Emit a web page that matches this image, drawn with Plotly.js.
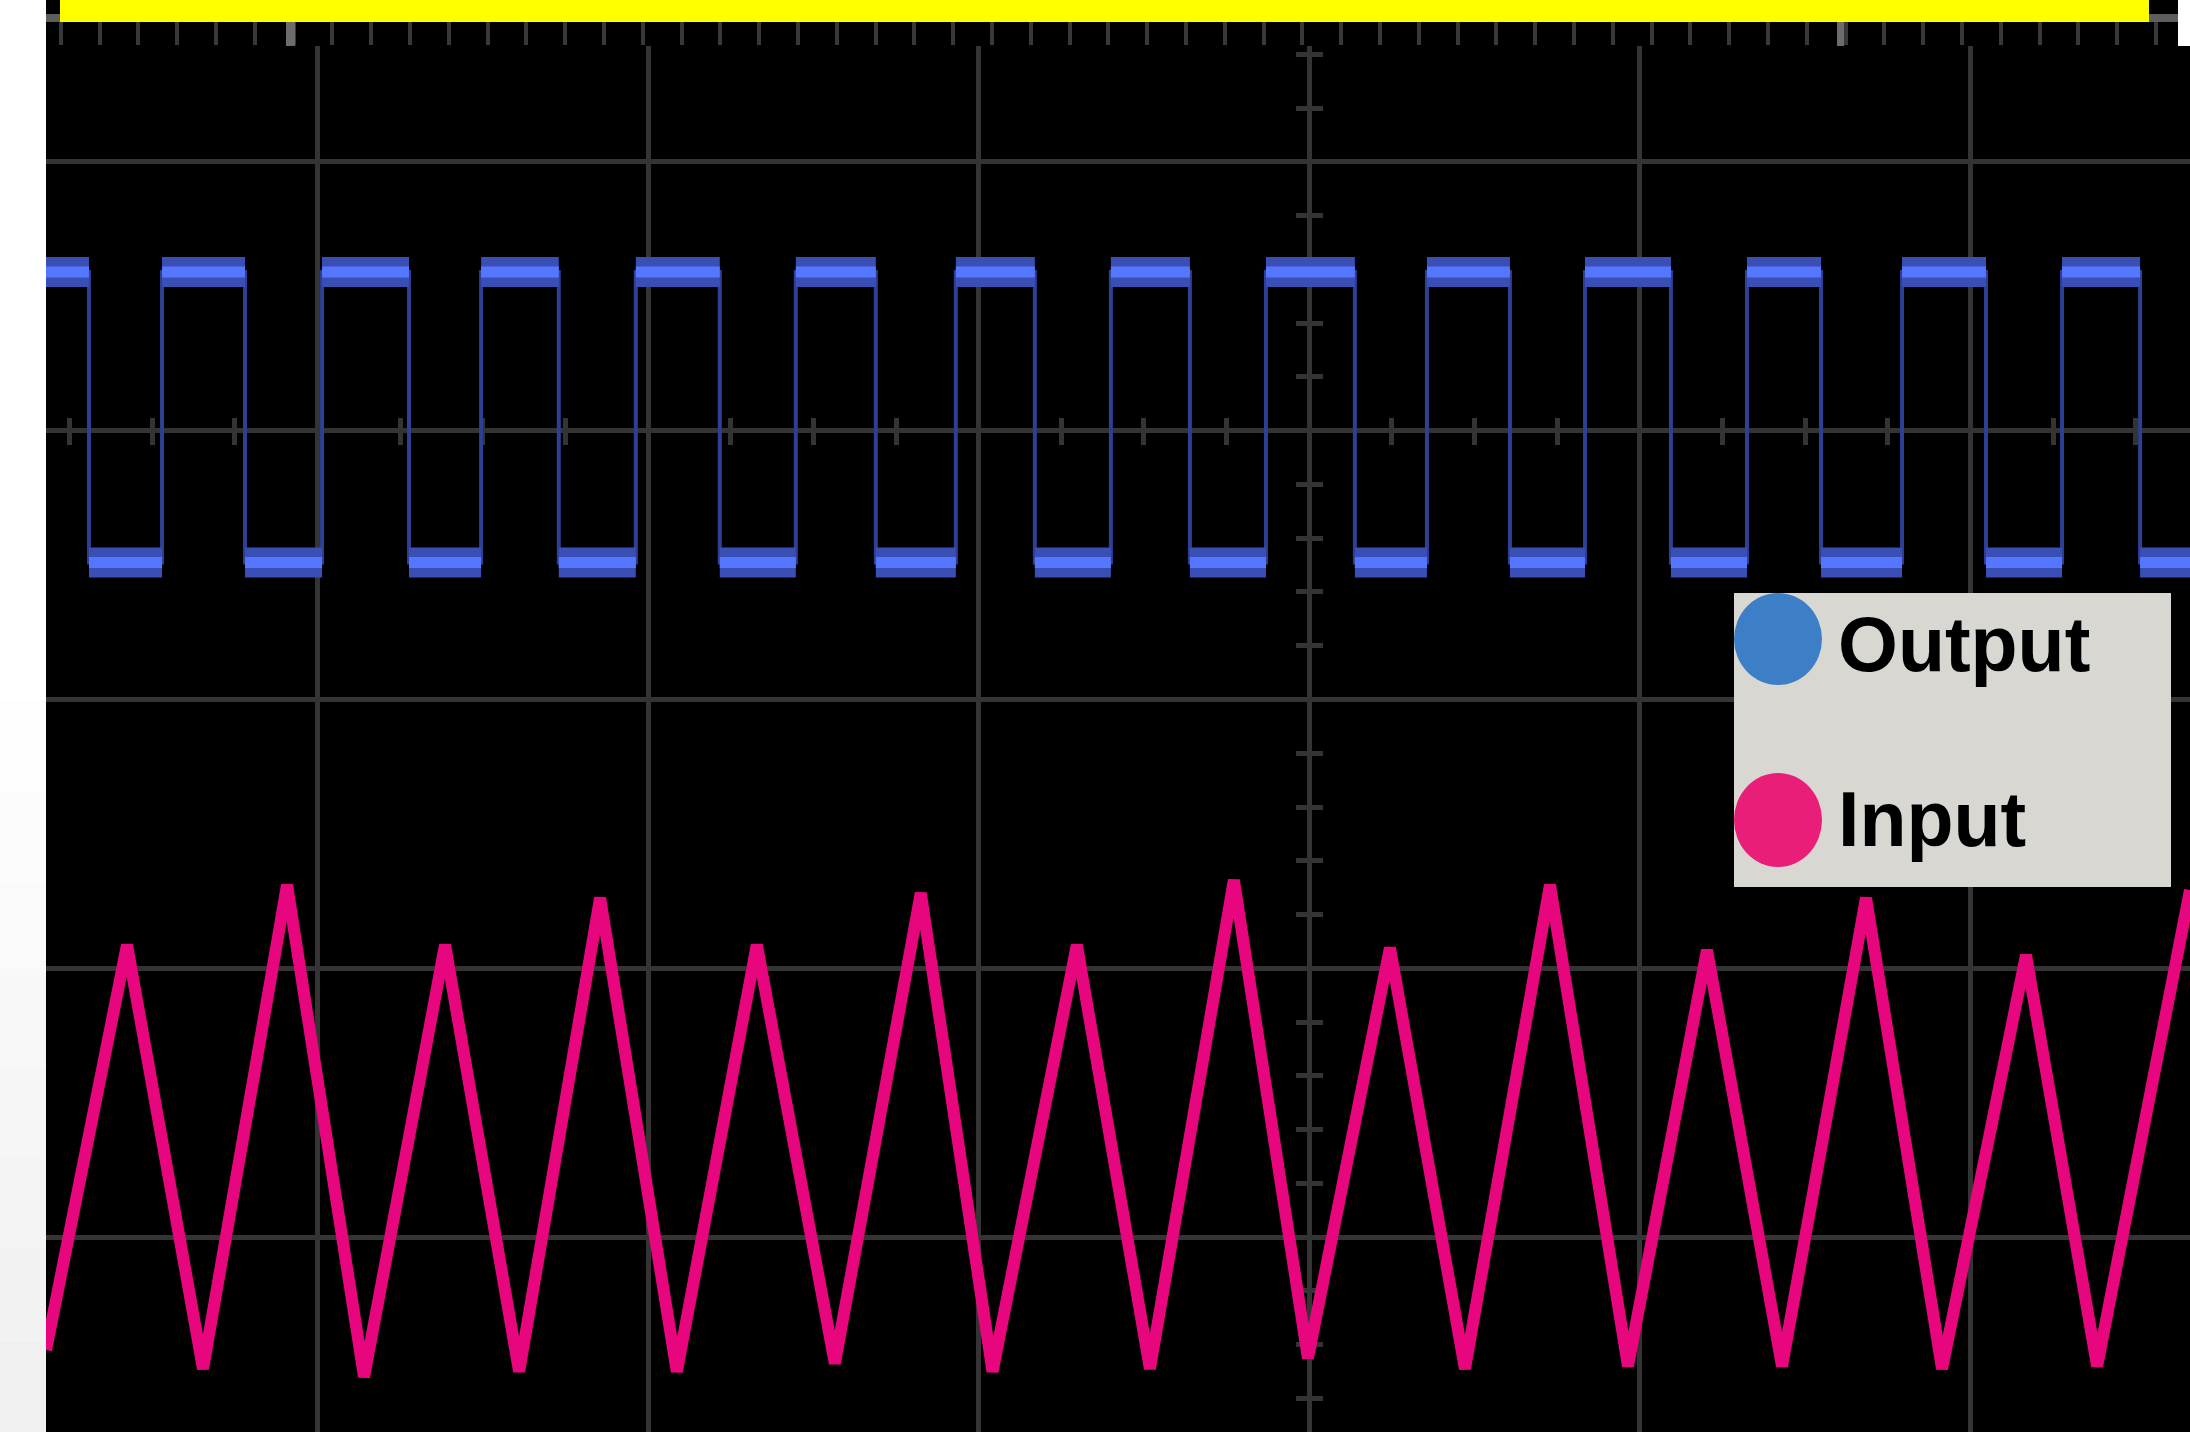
<!DOCTYPE html>
<html>
<head>
<meta charset="utf-8">
<script src="https://cdn.plot.ly/plotly-3.0.1.min.js"></script>
<style>
html, body { margin: 0; padding: 0; background: #ffffff; overflow: hidden; }
#chart { width: 2190px; height: 1432px; }
</style>
</head>
<body>
<div id="chart"></div>
<script>
// ---- Data (time and amplitude in screen divisions; 0 = centre graticule) ----
// Output: square wave, transition times and the level held after each one
const outputTime = [-3.821, -3.691, -3.470, -3.219, -2.986, -2.723, -2.505, -2.270, -2.037,
  -1.783, -1.553, -1.311, -1.069, -0.830, -0.600, -0.361, -0.131, 0.138, 0.356,
  0.607, 0.834, 1.094, 1.324, 1.548, 1.793, 2.047, 2.277, 2.513, 2.664];
const outputLevel = [0.59, -0.49, 0.59, -0.49, 0.59, -0.49, 0.59, -0.49, 0.59,
  -0.49, 0.59, -0.49, 0.59, -0.49, 0.59, -0.49, 0.59, -0.49, 0.59,
  -0.49, 0.59, -0.49, 0.59, -0.49, 0.59, -0.49, 0.59, -0.49, -0.49];

// Input: triangle wave, vertices
const inputTime = [-3.821, -3.576, -3.346, -3.092, -2.859, -2.614, -2.390, -2.145, -1.913,
  -1.671, -1.435, -1.175, -0.958, -0.703, -0.482, -0.228, -0.004, 0.244, 0.471,
  0.728, 0.964, 1.203, 1.430, 1.684, 1.914, 2.168, 2.383, 2.664];
const inputVolt = [-3.42, -1.913, -3.49, -1.690, -3.52, -1.913, -3.50, -1.738, -3.50,
  -1.913, -3.47, -1.720, -3.50, -1.913, -3.49, -1.672, -3.45, -1.924, -3.49,
  -1.690, -3.48, -1.932, -3.48, -1.738, -3.49, -1.951, -3.48, -1.709];

const seriesNames = ['Output', 'Input'];
const seriesColors = ['#3d7fc7', '#e91e79'];

// ---- Screen geometry ----
const W = 2190, H = 1432, L = 46, T = 46;
const xRange = [-3.821, 2.664];
const yRange = [-3.725, 1.431];
const px = v => (v - L) / (W - L);
const py = v => (H - v) / (H - T);

// plateau segments of the output trace (noise band)
const bandX = [], bandY = [];
for (let i = 0; i < outputTime.length - 1; i++) {
  bandX.push(outputTime[i], outputTime[i + 1], null);
  bandY.push(outputLevel[i], outputLevel[i], null);
}

const traces = [
  { x: outputTime, y: outputLevel, mode: 'lines', line: { shape: 'hv', color: '#2e3f95', width: 4 },
    showlegend: false, hoverinfo: 'skip', name: seriesNames[0] },
  { x: bandX, y: bandY, mode: 'lines', line: { color: '#3a4fb6', width: 30 },
    showlegend: false, hoverinfo: 'skip', connectgaps: false },
  { x: bandX, y: bandY, mode: 'lines', line: { color: '#5577ff', width: 11 },
    showlegend: false, hoverinfo: 'skip', connectgaps: false },
  { x: inputTime, y: inputVolt, mode: 'lines', line: { color: '#e8067e', width: 12 },
    showlegend: false, hoverinfo: 'skip', name: seriesNames[1] },
  // carriers for the extra tick axes
  { x: [], y: [], xaxis: 'x2', yaxis: 'y', showlegend: false, hoverinfo: 'skip' },
  { x: [], y: [], xaxis: 'x3', yaxis: 'y', showlegend: false, hoverinfo: 'skip' },
  { x: [], y: [], xaxis: 'x4', yaxis: 'y', showlegend: false, hoverinfo: 'skip' },
  { x: [], y: [], xaxis: 'x', yaxis: 'y3', showlegend: false, hoverinfo: 'skip' },
  { x: [], y: [], xaxis: 'x', yaxis: 'y4', showlegend: false, hoverinfo: 'skip' }
];

const gridColor = '#343434';
const xCentre = (0 - xRange[0]) / (xRange[1] - xRange[0]);
const yCentre = (0 - yRange[0]) / (yRange[1] - yRange[0]);

const hidden = { showticklabels: false, showgrid: false, zeroline: false, showline: false, fixedrange: true };

// faint vertical shading of the left margin (white at top, light grey at bottom)
const marginShades = ['#fefefe', '#fcfcfc', '#fafafa', '#f8f8f8', '#f6f6f6', '#f4f4f4', '#f2f2f2', '#f0f0f0'];
const shadeShapes = marginShades.map((c, i) => {
  const top = 700 + i * (732 / marginShades.length);
  const bot = 700 + (i + 1) * (732 / marginShades.length);
  return { type: 'rect', xref: 'paper', yref: 'paper', x0: px(0), x1: px(46), y0: py(bot), y1: py(top),
    fillcolor: c, line: { width: 0 }, layer: 'below' };
});

const layout = {
  width: W, height: H,
  margin: { l: L, r: 0, t: T, b: 0, pad: 0 },
  paper_bgcolor: '#ffffff',
  plot_bgcolor: '#000000',
  showlegend: false,
  xaxis: Object.assign({}, hidden, { range: xRange, tick0: 0, dtick: 1, showgrid: true,
    gridcolor: gridColor, gridwidth: 5, ticks: '' }),
  yaxis: Object.assign({}, hidden, { range: yRange, tick0: 0, dtick: 1, showgrid: true,
    gridcolor: gridColor, gridwidth: 5, ticks: '' }),
  xaxis2: Object.assign({}, hidden, { overlaying: 'x', side: 'top', anchor: 'y', range: [L, W],
    tick0: 60.7, dtick: 38.8, ticks: 'outside', ticklen: 24, tickwidth: 4, tickcolor: '#383838' }),
  xaxis3: Object.assign({}, hidden, { overlaying: 'x', anchor: 'free', position: yCentre, range: xRange,
    tick0: 0, dtick: 0.25, ticks: 'outside', ticklen: 13, tickwidth: 5, tickcolor: gridColor, layer: 'below traces' }),
  xaxis4: Object.assign({}, hidden, { overlaying: 'x', anchor: 'free', position: yCentre, range: xRange,
    tick0: 0, dtick: 0.25, ticks: 'inside', ticklen: 13, tickwidth: 5, tickcolor: gridColor, layer: 'below traces' }),
  yaxis3: Object.assign({}, hidden, { overlaying: 'y', anchor: 'free', position: xCentre, side: 'left', range: yRange,
    tick0: 0, dtick: 0.2, ticks: 'outside', ticklen: 13, tickwidth: 5, tickcolor: gridColor, layer: 'below traces' }),
  yaxis4: Object.assign({}, hidden, { overlaying: 'y', anchor: 'free', position: xCentre, side: 'left', range: yRange,
    tick0: 0, dtick: 0.2, ticks: 'inside', ticklen: 13, tickwidth: 5, tickcolor: gridColor, layer: 'below traces' }),
  shapes: shadeShapes.concat([
    // black strip behind the top tick row
    { type: 'rect', xref: 'paper', yref: 'paper', x0: px(46), x1: px(2178), y0: py(46), y1: py(0),
      fillcolor: '#000000', line: { width: 0 }, layer: 'below' },
    // grey corners of the yellow bar
    { type: 'rect', xref: 'paper', yref: 'paper', x0: px(46), x1: px(66), y0: py(22), y1: py(14),
      fillcolor: '#5e5e5e', line: { width: 0 }, layer: 'above' },
    { type: 'rect', xref: 'paper', yref: 'paper', x0: px(2144), x1: px(2178), y0: py(22), y1: py(14),
      fillcolor: '#5e5e5e', line: { width: 0 }, layer: 'above' },
    // yellow bar
    { type: 'rect', xref: 'paper', yref: 'paper', x0: px(60), x1: px(2149), y0: py(22), y1: py(0),
      fillcolor: '#ffff00', line: { width: 0 }, layer: 'above' },
    // two highlighted markers in the tick row
    { type: 'rect', xref: 'paper', yref: 'paper', x0: px(286), x1: px(295), y0: py(46), y1: py(22),
      fillcolor: '#6c6c6c', line: { width: 0 }, layer: 'above' },
    { type: 'rect', xref: 'paper', yref: 'paper', x0: px(1837), x1: px(1844), y0: py(46), y1: py(22),
      fillcolor: '#6c6c6c', line: { width: 0 }, layer: 'above' },
    // legend panel
    { type: 'rect', xref: 'paper', yref: 'paper', x0: px(1734), x1: px(2171), y0: py(887), y1: py(593),
      fillcolor: '#d9d7d2', line: { width: 0 }, layer: 'above' },
    { type: 'circle', xref: 'paper', yref: 'paper', x0: px(1734), x1: px(1822), y0: py(685), y1: py(593),
      fillcolor: seriesColors[0], line: { width: 0 }, layer: 'above' },
    { type: 'circle', xref: 'paper', yref: 'paper', x0: px(1734), x1: px(1822), y0: py(867), y1: py(773),
      fillcolor: seriesColors[1], line: { width: 0 }, layer: 'above' }
  ]),
  annotations: [
    { xref: 'paper', yref: 'paper', x: px(1836), y: py(644), xanchor: 'left', yanchor: 'middle',
      text: seriesNames[0], showarrow: false,
      font: { family: 'Liberation Sans, Arial, sans-serif', size: 77, color: '#000000', weight: 'bold' } },
    { xref: 'paper', yref: 'paper', x: px(1836), y: py(819), xanchor: 'left', yanchor: 'middle',
      text: seriesNames[1], showarrow: false,
      font: { family: 'Liberation Sans, Arial, sans-serif', size: 77, color: '#000000', weight: 'bold' } }
  ]
};

Plotly.newPlot('chart', traces, layout, { staticPlot: true, displayModeBar: false });
</script>
</body>
</html>
